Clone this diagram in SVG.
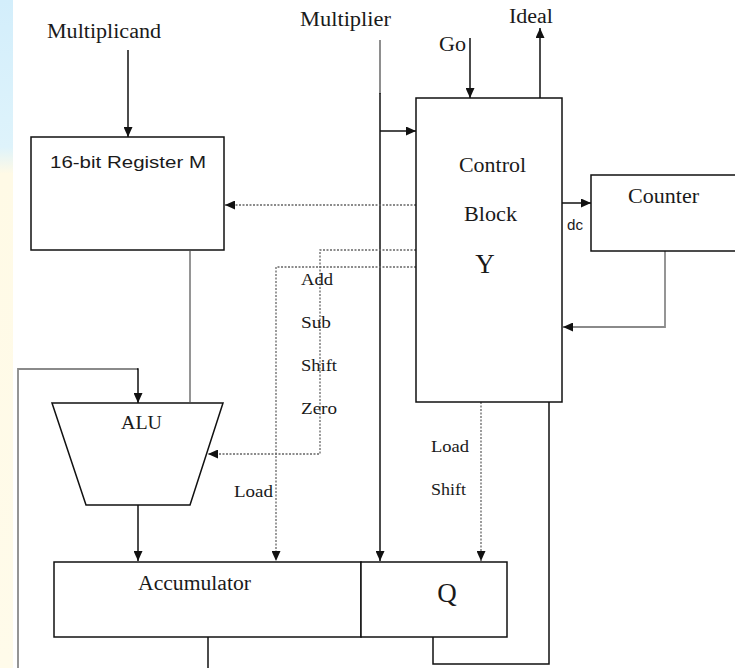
<svg xmlns="http://www.w3.org/2000/svg" width="735" height="668" viewBox="0 0 735 668">
<style>
.serif{font-family:"Liberation Serif","Times New Roman",serif;fill:#1a1a1a;}
.sans{font-family:"Liberation Sans",Arial,sans-serif;fill:#1a1a1a;}
.box{fill:#fff;stroke:#111;stroke-width:1.5;}
.wire{fill:none;stroke:#111;stroke-width:1.5;}
.gray{fill:none;stroke:#8a8a8a;stroke-width:1.8;}
.dot{fill:none;stroke:#666;stroke-width:1.3;stroke-dasharray:2 1.5;}
</style>
<defs>
<marker id="ah" markerUnits="userSpaceOnUse" markerWidth="10" markerHeight="9" refX="10" refY="4.5" orient="auto">
<path d="M0,0 L10,4.5 L0,9 z" fill="#111"/>
</marker>
<linearGradient id="wm" x1="0" y1="0" x2="0" y2="1">
<stop offset="0" stop-color="#d3eefb"/>
<stop offset="0.22" stop-color="#def3fb"/>
<stop offset="0.26" stop-color="#fffae6"/>
<stop offset="1" stop-color="#fffbea"/>
</linearGradient>
</defs>
<rect x="0" y="0" width="735" height="668" fill="#fff"/>
<rect x="0" y="0" width="13" height="668" fill="url(#wm)"/>

<g id="connectors">
<line class="wire" x1="128" y1="50" x2="128" y2="137" marker-end="url(#ah)"/>
<line x1="380" y1="40" x2="380" y2="94" stroke="#444" stroke-width="1.2"/>
<line class="wire" x1="380" y1="93" x2="380" y2="561" marker-end="url(#ah)"/>
<line class="wire" x1="380" y1="131" x2="416" y2="131" marker-end="url(#ah)"/>
<line class="wire" x1="470" y1="38" x2="470" y2="98" marker-end="url(#ah)"/>
<line class="wire" x1="540" y1="98" x2="540" y2="28" marker-end="url(#ah)"/>
<path class="dot" d="M416,205 H225" marker-end="url(#ah)"/>
<path class="dot" d="M416,250 H320 V454 H208" marker-end="url(#ah)"/>
<path class="dot" d="M416,267 H276 V561" marker-end="url(#ah)"/>
<line class="wire" x1="562" y1="203" x2="591" y2="203" marker-end="url(#ah)"/>
<path class="gray" d="M665,251 V327 H563" marker-end="url(#ah)"/>
<path class="dot" d="M481,402 V561" marker-end="url(#ah)"/>
<path class="wire" d="M549,402 V664 H433 V637"/>
<line class="gray" x1="190" y1="251" x2="190" y2="402"/>
<path class="gray" d="M18,668 V369 H138" stroke="#999"/>
<path class="wire" d="M137,369 H138 V403" marker-end="url(#ah)"/>
<line class="wire" x1="138" y1="504" x2="138" y2="561" marker-end="url(#ah)"/>
<line class="wire" x1="208" y1="637" x2="208" y2="668"/>
</g>

<g id="labels">
<text class="serif" x="47" y="38" font-size="20" textLength="114" lengthAdjust="spacingAndGlyphs">Multiplicand</text>
<text class="serif" x="300" y="26" font-size="20" textLength="91" lengthAdjust="spacingAndGlyphs">Multiplier</text>
<text class="serif" x="439" y="51" font-size="20" textLength="27" lengthAdjust="spacingAndGlyphs">Go</text>
<text class="serif" x="509" y="23" font-size="20" textLength="44" lengthAdjust="spacingAndGlyphs">Ideal</text>
<text class="sans" x="567" y="230" font-size="15" textLength="16" lengthAdjust="spacingAndGlyphs">dc</text>
<text class="serif" x="301" y="285" font-size="17" textLength="32" lengthAdjust="spacingAndGlyphs">Add</text>
<text class="serif" x="301" y="328" font-size="17" textLength="30" lengthAdjust="spacingAndGlyphs">Sub</text>
<text class="serif" x="301" y="371" font-size="17" textLength="36" lengthAdjust="spacingAndGlyphs">Shift</text>
<text class="serif" x="301" y="414" font-size="17" textLength="36" lengthAdjust="spacingAndGlyphs">Zero</text>
<text class="serif" x="234" y="497" font-size="17" textLength="39" lengthAdjust="spacingAndGlyphs">Load</text>
<text class="serif" x="431" y="452" font-size="17" textLength="38" lengthAdjust="spacingAndGlyphs">Load</text>
<text class="serif" x="431" y="495" font-size="17" textLength="35" lengthAdjust="spacingAndGlyphs">Shift</text>
</g>

<g id="regM">
<rect class="box" x="31" y="137" width="193" height="113"/>
<text class="sans" x="50" y="168" font-size="17" textLength="156" lengthAdjust="spacingAndGlyphs">16-bit Register M</text>
</g>

<g id="control">
<rect class="box" x="416" y="98" width="146" height="304"/>
<text class="serif" x="459" y="172" font-size="20" textLength="67" lengthAdjust="spacingAndGlyphs">Control</text>
<text class="serif" x="464" y="221" font-size="20" textLength="53" lengthAdjust="spacingAndGlyphs">Block</text>
<text class="serif" x="485" y="273" font-size="27" text-anchor="middle">Y</text>
</g>

<g id="counter">
<rect class="box" x="591" y="175" width="160" height="76"/>
<text class="serif" x="628" y="203" font-size="20" textLength="71" lengthAdjust="spacingAndGlyphs">Counter</text>
</g>

<g id="alu">
<path class="box" d="M52,403 H223 L190,505 H86 Z"/>
<text class="serif" x="121" y="429" font-size="18" textLength="41" lengthAdjust="spacingAndGlyphs">ALU</text>
</g>

<g id="accumulator">
<rect class="box" x="54" y="562" width="307" height="75"/>
<text class="serif" x="138" y="590" font-size="20" textLength="113" lengthAdjust="spacingAndGlyphs">Accumulator</text>
</g>

<g id="q">
<rect class="box" x="361" y="562" width="146" height="75"/>
<text class="serif" x="447" y="602" font-size="27" text-anchor="middle">Q</text>
</g>
</svg>
